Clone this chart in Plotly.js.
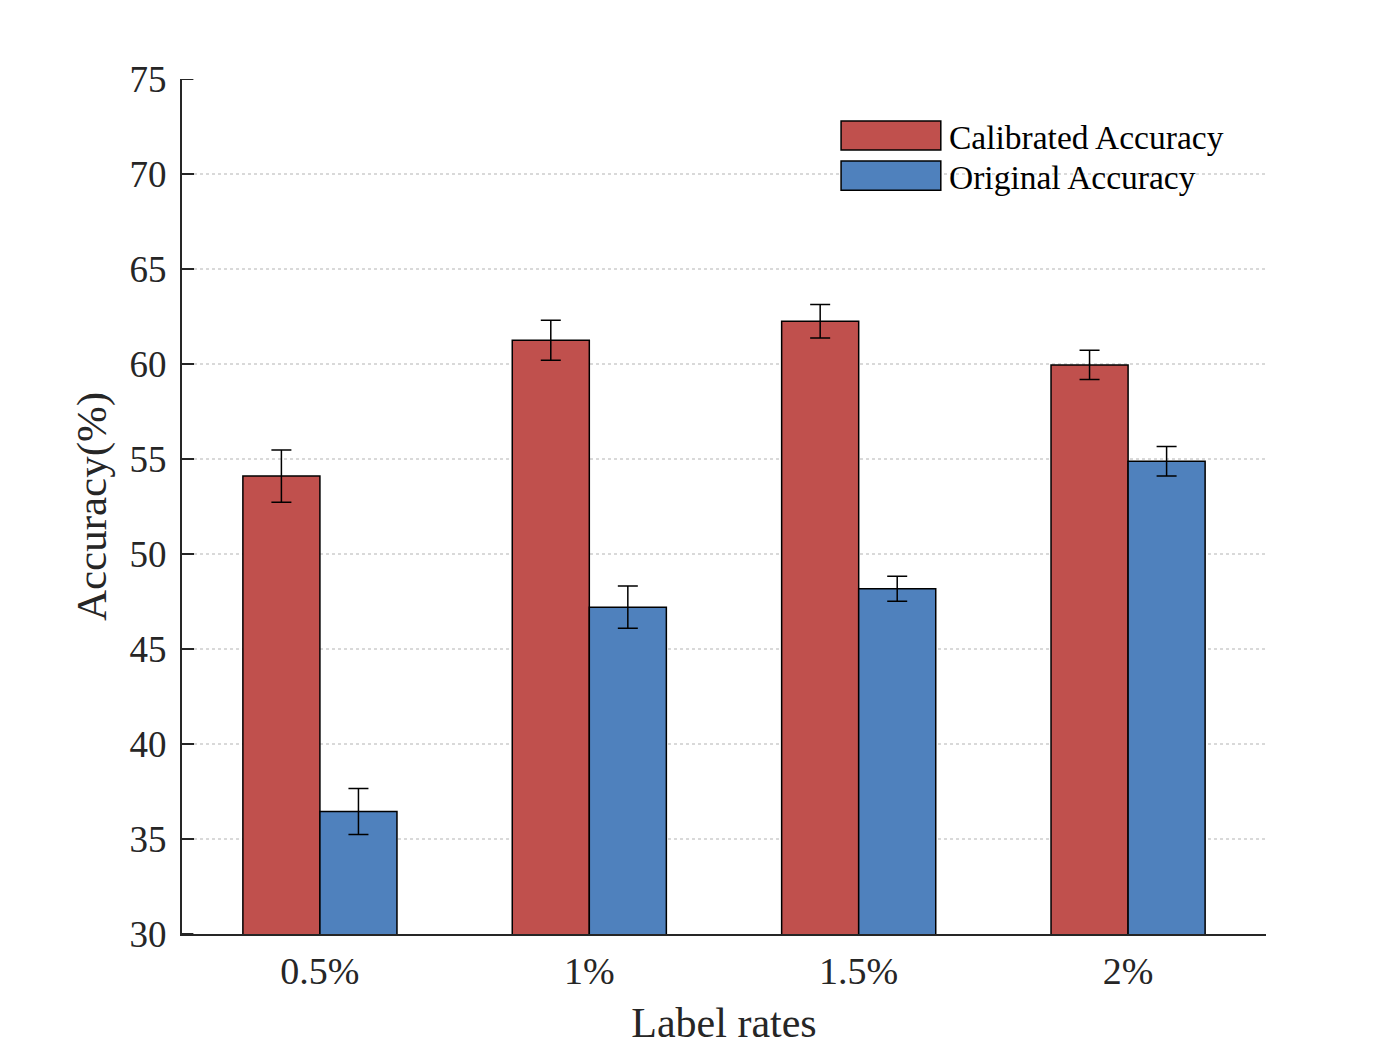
<!DOCTYPE html>
<html>
<head>
<meta charset="utf-8">
<script src="https://cdn.plot.ly/plotly-3.0.1.min.js"></script>
<style>
  html, body { margin: 0; padding: 0; background: #fff; }
  #chart { width: 1400px; height: 1050px; }
</style>
</head>
<body>
<div id="chart"></div>
<script>
// label rates on the x axis
const labelRates = ['0.5%', '1%', '1.5%', '2%'];

// series names
const seriesNames = ['Calibrated Accuracy', 'Original Accuracy'];

// mean accuracy (%) and error bar half widths
const calibratedAcc = [54.1, 61.25, 62.25, 59.95];
const calibratedErr = [1.38, 1.05, 0.88, 0.77];
const originalAcc = [36.45, 47.2, 48.17, 54.88];
const originalErr = [1.21, 1.11, 0.66, 0.78];

// y axis ticks
const yTicks = [30, 35, 40, 45, 50, 55, 60, 65, 70, 75];

const colors = ['#C0504D', '#4F81BD'];
const font = '"Liberation Serif", "Times New Roman", serif';

function makeBar(name, values, errors, color) {
    return {
        type: 'bar',
        name: name,
        x: labelRates,
        y: values,
        marker: { color: color, line: { color: '#000', width: 1.5 } },
        error_y: { type: 'data', array: errors, visible: true, color: '#000', thickness: 1.5, width: 10 },
        showlegend: false
    };
}

const traces = [
    makeBar(seriesNames[0], calibratedAcc, calibratedErr, colors[0]),
    makeBar(seriesNames[1], originalAcc, originalErr, colors[1])
];

const shapes = [];
const annotations = [];

// inside tick marks on the y axis (the built-in ones did not show up)
yTicks.forEach((v) => {
    shapes.push({
        type: 'line', xref: 'paper', yref: 'y',
        x0: 0, x1: 0.0105, y0: v, y1: v,
        line: { color: '#262626', width: 2 }
    });
});

// legend drawn by hand so the colour patches are as large as in the original
const legendRows = [[0.951, 0.917], [0.904, 0.870]];
seriesNames.forEach((name, i) => {
    shapes.push({
        type: 'rect', xref: 'paper', yref: 'paper',
        x0: 0.608, x1: 0.700, y0: legendRows[i][1], y1: legendRows[i][0],
        fillcolor: colors[i], line: { color: '#000', width: 1.5 }
    });
    annotations.push({
        xref: 'paper', yref: 'paper', x: 0.706, y: (legendRows[i][0] + legendRows[i][1]) / 2 - 0.002,
        xanchor: 'left', yanchor: 'middle', showarrow: false,
        text: name, font: { family: font, size: 33.5, color: '#000' }
    });
});

const layout = {
    width: 1400,
    height: 1050,
    margin: { l: 182, r: 134, t: 79, b: 116 },
    paper_bgcolor: '#fff',
    plot_bgcolor: '#fff',
    font: { family: font, color: '#262626' },
    barmode: 'group',
    bargap: 0.428,
    bargroupgap: 0,
    xaxis: {
        type: 'category',
        range: [-0.512, 3.512],
        showline: true,
        linecolor: '#262626',
        linewidth: 2,
        ticks: '',
        showgrid: false,
        zeroline: false,
        tickfont: { family: font, size: 38, color: '#262626' },
        ticklabelstandoff: 2,
        title: { text: 'Label rates', font: { family: font, size: 42, color: '#262626' }, standoff: 17 }
    },
    yaxis: {
        range: [30, 75],
        tickmode: 'array',
        tickvals: yTicks,
        showline: true,
        linecolor: '#262626',
        linewidth: 2,
        ticks: 'inside',
        ticklen: 12,
        tickwidth: 2,
        tickcolor: '#262626',
        showgrid: true,
        gridcolor: '#d9d9d9',
        griddash: 'dot',
        gridwidth: 1.5,
        zeroline: false,
        tickfont: { family: font, size: 37, color: '#262626' },
        ticklabelstandoff: 6,
        title: { text: 'Accuracy(%)', font: { family: font, size: 43, color: '#262626' }, standoff: 10 }
    },
    shapes: shapes,
    annotations: annotations
};

Plotly.newPlot('chart', traces, layout, { displayModeBar: false, staticPlot: true });
</script>
</body>
</html>
